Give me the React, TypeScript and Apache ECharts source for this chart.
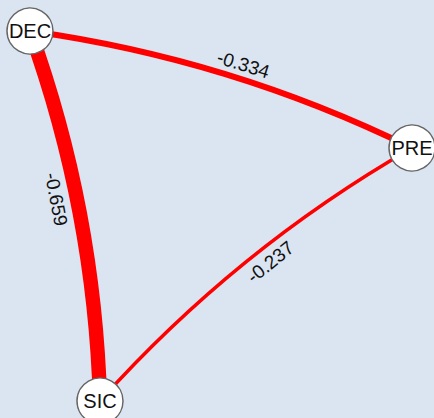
import React, { useEffect, useRef } from "react";
import * as echarts from "echarts";

// Nodes (layout coordinates in px) and their edges
const nodeNames = ["DEC", "PRE", "SIC"];
const nodeX = [30, 412, 100];
const nodeY = [31, 148, 401];
const edgeSource = ["DEC", "SIC", "DEC"];
const edgeTarget = ["PRE", "PRE", "SIC"];
const edgeValues = [-0.334, -0.237, -0.659];

export default function App() {
  const ref = useRef<HTMLDivElement>(null);

  useEffect(() => {
    if (!ref.current) return;
    const chart = echarts.init(ref.current, undefined, { renderer: "svg" });

    // label placement styles per edge (side of line, distance, along-line shift via padding)
    const labelStyle: Record<string, any> = {
      "DEC-PRE": { position: "insideMiddleTop", distance: 5, padding: [0, 0, 0, 28] },
      "SIC-PRE": { position: "insideMiddleBottom", distance: 6, padding: [0, 0, 0, 38] },
      "DEC-SIC": { position: "insideMiddleBottom", distance: 11, padding: [0, 36, 0, 0] },
    };

    const nodes = nodeNames.map((n, i) => ({ name: n, x: nodeX[i], y: nodeY[i] }));
    const links = edgeValues.map((v, i) => ({
      source: edgeSource[i],
      target: edgeTarget[i],
      value: v,
      lineStyle: { width: Math.max(1, 25.5 * Math.abs(v) - 2.4) },
      label: labelStyle[edgeSource[i] + "-" + edgeTarget[i]],
    }));

    chart.setOption({
      animation: false,
      backgroundColor: "#dbe5f1",
      series: [
        {
          type: "graph",
          layout: "none",
          left: 30,
          top: 31,
          width: 382,
          height: 370,
          roam: false,
          symbol: "circle",
          symbolSize: 46,
          itemStyle: { color: "#ffffff", borderColor: "#666666", borderWidth: 1.5 },
          label: {
            show: true,
            position: "inside",
            fontSize: 20,
            color: "#111111",
            fontFamily: "Liberation Sans, Arial, sans-serif",
          },
          edgeSymbol: ["none", "none"],
          lineStyle: { color: "#ff0000", curveness: 0.08, opacity: 1 },
          edgeLabel: {
            show: true,
            fontSize: 19,
            color: "#111111",
            fontFamily: "Liberation Sans, Arial, sans-serif",
            formatter: (p: any) => Number(p.data.value).toFixed(3),
          },
          emphasis: { disabled: true },
          data: nodes,
          links: links,
        },
      ],
    });

    return () => chart.dispose();
  }, []);

  return (
    <div
      ref={ref}
      style={{ position: "fixed", left: 0, top: 0, width: 434, height: 418 }}
    />
  );
}
